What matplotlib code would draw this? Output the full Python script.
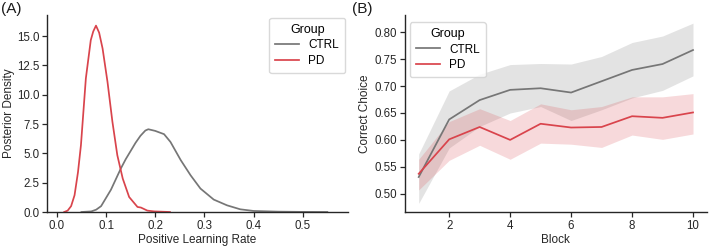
import matplotlib
matplotlib.use("Agg")
import matplotlib.pyplot as plt
import numpy as np

plt.rcParams['font.family'] = ['Liberation Sans', 'DejaVu Sans']

# Panel A: posterior densities
pd_x = [0.015, 0.022, 0.029, 0.036, 0.043, 0.049, 0.059, 0.069, 0.074, 0.0796, 0.086, 0.093,
        0.103, 0.113, 0.123, 0.134, 0.147, 0.164, 0.171, 0.184, 0.198, 0.23]
pd_y = [0.0, 0.12, 0.5, 1.43, 3.4, 5.7, 11.4, 14.66, 15.4, 15.9, 15.3, 13.95,
        11.1, 7.7, 4.84, 2.85, 1.28, 0.43, 0.38, 0.12, 0.05, 0.0]
ctrl_x = [0.05, 0.07, 0.08, 0.09, 0.10, 0.11, 0.12, 0.13, 0.14, 0.15, 0.16, 0.17, 0.18,
          0.186, 0.20, 0.218, 0.231, 0.252, 0.272, 0.292, 0.319, 0.346, 0.373, 0.40,
          0.45, 0.50, 0.55]
ctrl_y = [0.0, 0.05, 0.2, 0.5, 1.2, 1.9, 2.8, 3.7, 4.5, 5.2, 5.9, 6.5, 6.95,
          7.06, 6.92, 6.64, 5.98, 4.42, 3.13, 2.0, 1.06, 0.57, 0.23, 0.09,
          0.03, 0.01, 0.0]

# Panel B: correct choice per block
blocks = [1, 2, 3, 4, 5, 6, 7, 8, 9, 10]
ctrl_mean = [0.531, 0.638, 0.674, 0.693, 0.696, 0.688, 0.709, 0.730, 0.741, 0.767]
ctrl_lo = [0.482, 0.585, 0.625, 0.650, 0.662, 0.636, 0.656, 0.678, 0.692, 0.719]
ctrl_hi = [0.574, 0.691, 0.722, 0.740, 0.742, 0.741, 0.755, 0.781, 0.793, 0.817]
pd_mean = [0.537, 0.601, 0.624, 0.600, 0.630, 0.623, 0.624, 0.644, 0.641, 0.651]
pd_lo = [0.507, 0.562, 0.590, 0.564, 0.594, 0.592, 0.586, 0.609, 0.601, 0.611]
pd_hi = [0.564, 0.634, 0.658, 0.636, 0.667, 0.656, 0.662, 0.680, 0.680, 0.686]

groups = ["CTRL", "PD"]
c_ctrl = "#767676"
c_pd = "#d9444c"

fig = plt.figure(figsize=(7.09, 2.47), dpi=100)
axA = fig.add_axes([0.0663, 0.1417, 0.4245, 0.7973])
axB = fig.add_axes([0.5712, 0.1417, 0.4256, 0.7973])

for ax in (axA, axB):
    for s in ("top", "right"):
        ax.spines[s].set_visible(False)
    for s in ("left", "bottom"):
        ax.spines[s].set_color("#262626")
        ax.spines[s].set_linewidth(1.0)
    ax.tick_params(direction="out", length=3.5, width=0.9, labelsize=8.3,
                   color="#262626", labelcolor="#262626", pad=2.0)

axA.plot(ctrl_x, ctrl_y, color=c_ctrl, lw=1.25, label=groups[0])
axA.plot(pd_x, pd_y, color=c_pd, lw=1.25, label=groups[1])
axA.set_xlim(-0.02, 0.592)
axA.set_ylim(0, 16.8)
axA.set_xticks([0.0, 0.1, 0.2, 0.3, 0.4, 0.5])
axA.set_yticks([0, 2.5, 5, 7.5, 10, 12.5, 15])
axA.set_yticklabels(["0.0", "2.5", "5.0", "7.5", "10.0", "12.5", "15.0"])
axA.set_xlabel("Positive Learning Rate", fontsize=8.5, color="#262626", labelpad=2)
axA.set_ylabel("Posterior Density", fontsize=8.5, color="#262626", labelpad=1.5)
legA = axA.legend(title="Group", loc="upper right", fontsize=8.5, title_fontsize=9,
                  frameon=True, handlelength=2.0, borderpad=0.5, labelspacing=0.3,
                  borderaxespad=0, bbox_to_anchor=(0.99, 0.985))
legA.get_frame().set_edgecolor("#d0d0d0")

axB.fill_between(blocks, ctrl_lo, ctrl_hi, color=c_ctrl, alpha=0.2, lw=0)
axB.fill_between(blocks, pd_lo, pd_hi, color=c_pd, alpha=0.2, lw=0)
axB.plot(blocks, ctrl_mean, color=c_ctrl, lw=1.25, label=groups[0])
axB.plot(blocks, pd_mean, color=c_pd, lw=1.25, label=groups[1])
axB.set_xlim(0.55, 10.45)
axB.set_ylim(0.466, 0.832)
axB.set_xticks([2, 4, 6, 8, 10])
axB.set_yticks([0.50, 0.55, 0.60, 0.65, 0.70, 0.75, 0.80])
axB.set_yticklabels(["0.50", "0.55", "0.60", "0.65", "0.70", "0.75", "0.80"])
axB.set_xlabel("Block", fontsize=8.5, color="#262626", labelpad=2)
axB.set_ylabel("Correct Choice", fontsize=8.5, color="#262626", labelpad=3)
legB = axB.legend(title="Group", loc="upper left", fontsize=8.5, title_fontsize=9,
                  frameon=True, handlelength=2.0, borderpad=0.5, labelspacing=0.3,
                  borderaxespad=0, bbox_to_anchor=(0.017, 0.964))
legB.get_frame().set_edgecolor("#d0d0d0")

fig.text(0.002, 0.99, "(A)", fontsize=11, va="top", ha="left", color="#1a1a1a")
fig.text(0.496, 0.99, "(B)", fontsize=11, va="top", ha="left", color="#1a1a1a")

fig.savefig("out.png", dpi=100)
